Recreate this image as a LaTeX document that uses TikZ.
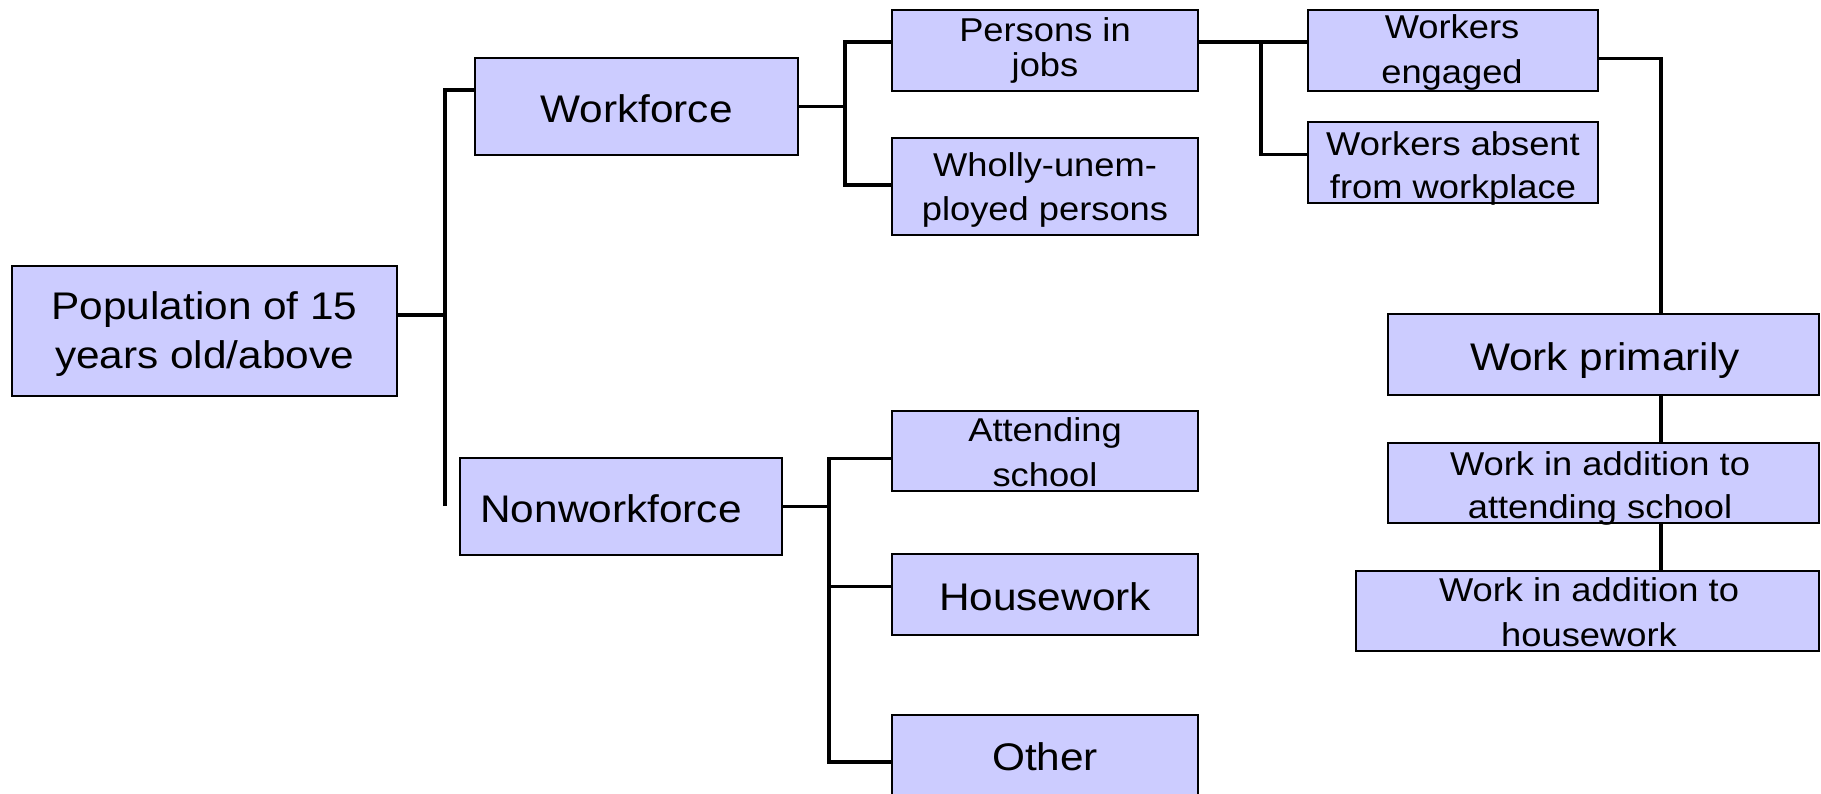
\documentclass[tikz,border=0pt]{standalone}
\usepackage{fontspec}
\usetikzlibrary{backgrounds}
\setmainfont{Liberation Sans}[FakeStretch=1.1]
\definecolor{boxfill}{RGB}{204,204,255}
\begin{document}
\begin{tikzpicture}[x=1pt,y=-1pt,
  box/.style={rectangle, draw=black, line width=2.8pt, fill=boxfill, inner sep=0pt},
  lbl/.style={inner sep=0pt, anchor=base, align=center, text=black},
  big/.style={lbl, font=\fontsize{38.5}{49}\selectfont},
  small/.style={lbl, font=\fontsize{33}{#1}\selectfont},
  small/.default=44,
  conn/.style={draw=black, line width=3.5pt}]
\useasboundingbox (0,0) rectangle (1821,793);

% ---- boxes ----
\node[box, minimum width=385, minimum height=130] (pop) at (204.5,331) {};
\node[box, minimum width=323, minimum height=97]  (wf)  at (636.5,106.5) {};
\node[box, minimum width=322, minimum height=97]  (nwf) at (621,506.5) {};
\node[box, minimum width=306, minimum height=81]  (pij) at (1045,50.5) {};
\node[box, minimum width=306, minimum height=97]  (whu) at (1045,186.5) {};
\node[box, minimum width=290, minimum height=81]  (eng) at (1453,50.5) {};
\node[box, minimum width=290, minimum height=81]  (abs) at (1453,162.5) {};
\node[box, minimum width=306, minimum height=80]  (att) at (1045,451) {};
\node[box, minimum width=306, minimum height=81]  (hsw) at (1045,594.5) {};
\node[box, minimum width=306, minimum height=80]  (oth) at (1045,755) {};
\node[box, minimum width=431, minimum height=81]  (wpr) at (1603.5,354.5) {};
\node[box, minimum width=431, minimum height=80]  (was) at (1603.5,483) {};
\node[box, minimum width=463, minimum height=80]  (wah) at (1587.5,611) {};

% ---- junction points of the tree lines ----
\coordinate (rJ) at (445,315);
\coordinate (rT) at (445,90);
\coordinate (rB) at (445,506);
\coordinate (wT) at (845,42);
\coordinate (wB) at (845,185);
\coordinate (nT) at (829,458.5);
\coordinate (nH) at (829,586.7);
\coordinate (nB) at (829,762);
\coordinate (pJ) at (1261,42);
\coordinate (pB) at (1261,154.5);
\coordinate (eR) at (1661,58.3);

% ---- connectors, behind the boxes ----
\begin{scope}[on background layer]
\draw[conn] (pop.east |- rJ) -- (rJ);
\draw[conn] (rB) -- (rT) -- (wf.west |- rT);

\draw[conn] (wf.east) -- (wf.east -| wT);
\draw[conn] (pij.west |- wT) -- (wT) -- (wB) -- (whu.west |- wB);

\draw[conn] (nwf.east) -- (nwf.east -| nT);
\draw[conn] (att.west |- nT) -- (nT) -- (nB) -- (oth.west |- nB);
\draw[conn] (nH) -- (hsw.west |- nH);

\draw[conn] (pij.east |- pJ) -- (eng.west |- pJ);
\draw[conn] (pJ) -- (pB) -- (abs.west |- pB);

\draw[conn] (eng.east |- eR) -- (eR) -- (wpr.north -| eR);
\draw[conn] (wpr.south -| eR) -- (was.north -| eR);
\draw[conn] (was.south -| eR) -- (wah.north -| eR);
\end{scope}

% ---- labels (anchored on the baseline of their last line) ----
\node[big]        (pop-t) at (204.5,368.3) {Population of 15\\years old/above};
\node[big]        (wf-t)  at (636.5,122.7) {Workforce};
\node[big]        (nwf-t) at (611,522.3)   {Nonworkforce};
\node[small=35]   (pij-t) at (1045,76.7)   {Persons in\\jobs};
\node[small=43.3] (whu-t) at (1045,220)    {Wholly-unem-\\ployed persons};
\node[small=45]   (eng-t) at (1452,83.3)   {Workers\\engaged};
\node[small=43.3] (abs-t) at (1453,198.3)  {Workers absent\\from workplace};
\node[small=45]   (att-t) at (1045,486.7)  {Attending\\school};
\node[big]        (hsw-t) at (1045,610.7)  {Housework};
\node[big]        (oth-t) at (1045,770.7)  {Other};
\node[big]        (wpr-t) at (1605,370)    {Work primarily};
\node[small=43]   (was-t) at (1600,518)    {Work in addition to\\attending school};
\node[small=45]   (wah-t) at (1589,646.7)  {Work in addition to\\housework};
\end{tikzpicture}
\end{document}
